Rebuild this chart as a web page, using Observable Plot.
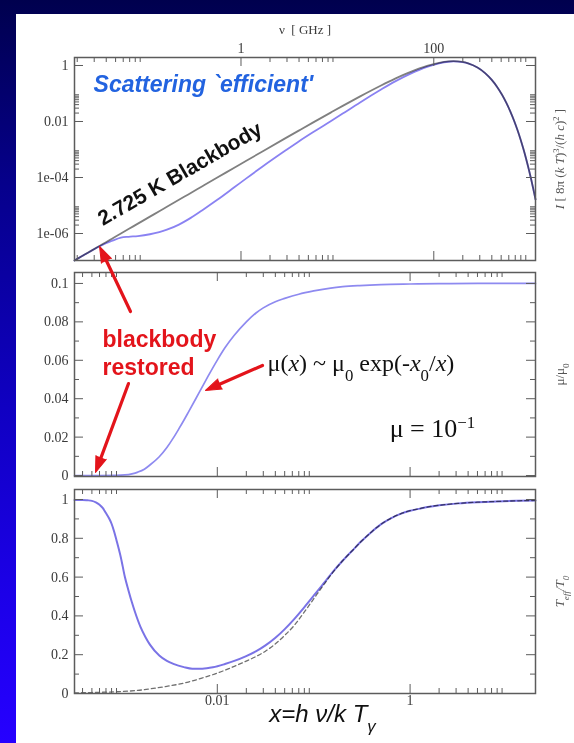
<!DOCTYPE html>
<html><head><meta charset="utf-8">
<script src="https://cdn.jsdelivr.net/npm/d3@7"></script>
<script src="https://cdn.jsdelivr.net/npm/@observablehq/plot@0.6"></script>
<style>
html,body{margin:0;padding:0;}
body{width:574px;height:743px;overflow:hidden;position:relative;}
#bg{position:absolute;left:0;top:0;width:574px;height:743px;background:linear-gradient(to bottom,#00004e 0%,#06008c 25%,#1000c2 55%,#1c00e8 80%,#2600ff 100%);}
#sheet{position:absolute;left:16px;top:14px;width:558px;height:729px;background:#fff;}
#stage{position:absolute;left:0;top:0;width:574px;height:743px;}
#stage svg{position:absolute;left:0;top:0;}
</style></head>
<body><div id="bg"></div><div id="sheet"></div><div id="stage"></div>
<script>
// ---------------- data ----------------
const GHZ_PER_X = 56.78;          // nu[GHz] = x * kT/h for T = 2.725 K
const X_DOMAIN = [3.3e-4, 20];

// top panel: intensity
const xTop = [3.3e-4, 4e-4, 5e-4, 6e-4, 7e-4, 8e-4, 1e-3, 1.2e-3, 1.5e-3, 2e-3, 2.5e-3, 3e-3, 4e-3, 5e-3, 7e-3,
  0.01, 0.015, 0.02, 0.03, 0.05, 0.07, 0.1, 0.15, 0.2, 0.3, 0.5, 0.7, 1, 1.5, 2, 2.5, 2.82, 3.5, 4, 5, 6, 7, 8, 9,
  10, 11, 12, 13, 14, 15, 16, 17, 18, 19, 20];
const blackbodyI = [1.089e-7, 1.6e-7, 2.5e-7, 3.6e-7, 4.9e-7, 6.4e-7, 1.0e-6, 1.44e-6, 2.25e-6, 4.0e-6, 6.24e-6, 8.99e-6, 1.6e-5, 2.49e-5, 4.88e-5,
  9.95e-5, 2.23e-4, 3.96e-4, 8.87e-4, 2.44e-3, 4.73e-3, 9.51e-3, 0.0208, 0.0361, 0.0772, 0.1927, 0.3383, 0.582, 0.9694, 1.252, 1.397, 1.421, 1.335, 1.194, 0.848, 0.5367, 0.3131, 0.1718, 0.08998,
  0.0454, 0.02223, 0.01062, 4.966e-3, 2.282e-3, 1.032e-3, 4.609e-4, 2.034e-4, 8.882e-5, 3.843e-5, 1.649e-5];
const distortedI = [1.089e-7, 1.6e-7, 2.48e-7, 3.5e-7, 4.5e-7, 5.4e-7, 7.1e-7, 7.63e-7, 8.1e-7, 9.4e-7, 1.123e-6, 1.366e-6, 2.08e-6, 3.19e-6, 6.83e-6,
  1.592e-5, 4.46e-5, 9.31e-5, 2.572e-4, 8.78e-4, 1.939e-3, 4.28e-3, 0.01019, 0.01913, 0.0471, 0.1387, 0.2706, 0.5034, 0.8967, 1.196, 1.362, 1.40, 1.324, 1.186, 0.843, 0.534, 0.3115, 0.171, 0.0895,
  0.0452, 0.0221, 0.01057, 4.94e-3, 2.27e-3, 1.027e-3, 4.59e-4, 2.024e-4, 8.84e-5, 3.82e-5, 1.64e-5];

// middle panel: chemical potential
const xMu = [3.3e-4, 6e-4, 9e-4, 1.1e-3, 1.3e-3, 1.5e-3, 1.75e-3, 2e-3, 2.5e-3, 3e-3, 3.5e-3, 4e-3, 4.5e-3, 5e-3, 6e-3, 7e-3, 8e-3,
  0.01, 0.012, 0.015, 0.02, 0.025, 0.03, 0.04, 0.05, 0.07, 0.1, 0.15, 0.2, 0.3, 0.5, 1, 2, 5, 10, 20];
const muValues = [0, 0, 0.00005, 0.0003, 0.0009, 0.0018, 0.0033, 0.0055, 0.0098, 0.0146, 0.0196, 0.0244, 0.0288, 0.0329, 0.0401, 0.0463, 0.0516,
  0.0601, 0.0665, 0.0730, 0.0800, 0.0845, 0.0873, 0.0905, 0.0922, 0.0944, 0.0961, 0.0976, 0.0983, 0.0989, 0.0994, 0.0997, 0.0999, 0.1, 0.1, 0.1];

// bottom panel: effective temperature
const xTeff = [3.3e-4, 4e-4, 4.5e-4, 5e-4, 5.5e-4, 6e-4, 6.5e-4, 7e-4, 7.5e-4, 8e-4, 8.5e-4, 9e-4, 1e-3, 1.1e-3, 1.2e-3, 1.3e-3, 1.4e-3,
  1.6e-3, 1.8e-3, 2e-3, 2.5e-3, 3e-3, 3.5e-3, 4.5e-3, 5.5e-3, 7e-3, 9e-3, 0.012, 0.015, 0.01995, 0.0251, 0.0316, 0.0398, 0.0501, 0.0631, 0.0794,
  0.1, 0.126, 0.158, 0.1995, 0.251, 0.316, 0.398, 0.501, 0.631, 0.794, 1, 1.26, 1.585, 2, 3.16, 5, 7.94, 12.6, 20];
const teffValues = [0.998, 0.998, 0.996, 0.993, 0.985, 0.973, 0.955, 0.93, 0.905, 0.875, 0.835, 0.79, 0.70, 0.60, 0.53, 0.47, 0.42,
  0.342, 0.29, 0.252, 0.196, 0.168, 0.153, 0.136, 0.128, 0.128, 0.135, 0.152, 0.168, 0.193, 0.217, 0.248, 0.286, 0.332, 0.385, 0.443,
  0.504, 0.566, 0.627, 0.684, 0.736, 0.787, 0.833, 0.873, 0.903, 0.926, 0.942, 0.953, 0.963, 0.970, 0.980, 0.986, 0.990, 0.993, 0.995];
const xTeffDashed = [3.3e-4, 5e-4, 7e-4, 1e-3, 1.5e-3, 2e-3, 3e-3, 4e-3, 5e-3, 7e-3, 0.01, 0.015, 0.01995, 0.0251, 0.0316, 0.0398, 0.0501, 0.0631, 0.0794,
  0.1, 0.126, 0.158, 0.1995, 0.251, 0.316, 0.398, 0.501, 0.631, 0.794, 1, 1.26, 1.585, 2, 3.16, 5, 7.94, 12.6, 20];
const teffDashed = [0.003, 0.005, 0.007, 0.01, 0.016, 0.024, 0.037, 0.048, 0.059, 0.08, 0.105, 0.14, 0.167, 0.19, 0.218, 0.255, 0.30, 0.352, 0.418,
  0.488, 0.558, 0.624, 0.684, 0.736, 0.787, 0.833, 0.873, 0.903, 0.926, 0.942, 0.953, 0.963, 0.970, 0.980, 0.986, 0.990, 0.993, 0.995];

// ticks and tick labels
const xMajorTicks = [1e-4, 0.01, 1];
const xMajorLabels = ["1e-04", "0.01", "1"];
const nuMajorTicks = [0.01, 1, 100];
const nuMajorLabels = ["0.01", "1", "100"];
const topYMajor = [1e-6, 1e-4, 1e-2, 1];
const topYLabels = ["1e-06", "1e-04", "0.01", "1"];
const muMajor = [0, 0.02, 0.04, 0.06, 0.08, 0.1];
const muLabels = ["0", "0.02", "0.04", "0.06", "0.08", "0.1"];
const muMinor = [0.01, 0.03, 0.05, 0.07, 0.09];
const teffMajor = [0, 0.2, 0.4, 0.6, 0.8, 1];
const teffLabels = ["0", "0.2", "0.4", "0.6", "0.8", "1"];
const teffMinor = [0.1, 0.3, 0.5, 0.7, 0.9];

// ---------------- layout / style ----------------
const W = 574, H = 743, ML = 74, MR = 39;
const PANELS = {top: [57, 260], mid: [272, 476], bot: [489, 693]};
const TOP_Y_DOMAIN = [1.086e-7, 1.93];
const MU_DOMAIN = [-0.0005, 0.1057];
const TEFF_DOMAIN = [0, 1.0515];
const AX = "#5c5c5c", TXT = "#3a3a3a", RED = "#e3141b";
const SERIF = "'Liberation Serif','Times New Roman',serif";
const SANS = "'Liberation Sans',Arial,sans-serif";
const FW = W - ML - MR;
const CURVE = "monotone-x";

const minorsOf = majors => majors.flatMap(m => [2, 3, 4, 5, 6, 7, 8, 9].map(k => k * m));
const within = dom => v => v >= dom[0] * 0.9999 && v <= dom[1] * 1.0001;
const inX = within(X_DOMAIN);

function base(p) {
  return {width: W, height: H, marginLeft: ML, marginRight: MR, marginTop: p[0], marginBottom: H - p[1],
    style: {background: "transparent", overflow: "visible", fontFamily: SERIF}};
}
function frameTicks(xMaj, xMin, yMaj, yMin, fh) {
  const MAJ = 9, MIN = 5, st = {stroke: AX, strokeWidth: 1};
  return [
    Plot.tickX(xMaj, {x: d => d, insetBottom: fh - MAJ, ...st}),
    Plot.tickX(xMaj, {x: d => d, insetTop: fh - MAJ, ...st}),
    Plot.tickX(xMin, {x: d => d, insetBottom: fh - MIN, ...st}),
    Plot.tickX(xMin, {x: d => d, insetTop: fh - MIN, ...st}),
    Plot.tickY(yMaj, {y: d => d, insetRight: FW - MAJ, ...st}),
    Plot.tickY(yMaj, {y: d => d, insetLeft: FW - MAJ, ...st}),
    Plot.tickY(yMin, {y: d => d, insetRight: FW - MIN, ...st}),
    Plot.tickY(yMin, {y: d => d, insetLeft: FW - MIN, ...st}),
    Plot.frame({stroke: AX, strokeWidth: 1.5})
  ];
}
const leftLabels = (vals, labels) => Plot.text(vals.map((v, i) => ({v, t: labels[i]})),
  {y: "v", text: "t", frameAnchor: "left", textAnchor: "end", dx: -6, fontSize: 14, fill: TXT, fontFamily: SERIF});
const rightTitle = (t, extra = {}) => Plot.text([t], {text: d => d, frameAnchor: "right", textAnchor: "middle", rotate: -90, dx: 24,
  fontSize: 13, fill: "#555", fontFamily: SERIF, ...extra});

// rich text: _{sub}, ^{sup}, *italic*
function richify(svg) {
  d3.select(svg).selectAll("text").each(function () {
    const nodes = this.children.length ? Array.from(this.querySelectorAll("tspan")) : [this];
    for (const node of nodes) {
      const s = node.textContent;
      if (!/(_\{|\^\{|\*)/.test(s)) continue;
      node.textContent = "";
      for (const part of s.split(/(_\{[^}]*\}|\^\{[^}]*\}|\*[^*]*\*)/)) {
        if (!part) continue;
        const ts = document.createElementNS("http://www.w3.org/2000/svg", "tspan");
        if (part.startsWith("_{")) { ts.textContent = part.slice(2, -1); ts.setAttribute("baseline-shift", "sub"); ts.setAttribute("font-size", "70%"); }
        else if (part.startsWith("^{")) { ts.textContent = part.slice(2, -1); ts.setAttribute("baseline-shift", "super"); ts.setAttribute("font-size", "65%"); }
        else if (part.startsWith("*")) { ts.textContent = part.slice(1, -1); ts.setAttribute("font-style", "italic"); }
        else ts.textContent = part;
        node.appendChild(ts);
      }
    }
  });
  return svg;
}

const stage = document.getElementById("stage");

// ---------------- top panel ----------------
{
  const rows = xTop.map((x, i) => ({x, bb: blackbodyI[i], dist: distortedI[i]}));
  const nuMaj = nuMajorTicks.map(v => v / GHZ_PER_X).filter(inX);
  const nuMin = minorsOf(nuMajorTicks).map(v => v / GHZ_PER_X).filter(inX);
  const yMin = minorsOf(topYMajor).filter(within(TOP_Y_DOMAIN));
  const nuLab = nuMajorTicks.map((v, i) => ({x: v / GHZ_PER_X, t: nuMajorLabels[i]})).filter(d => inX(d.x));
  const svg = Plot.plot({
    ...base(PANELS.top),
    x: {type: "log", domain: X_DOMAIN, axis: null},
    y: {type: "log", domain: TOP_Y_DOMAIN, axis: null},
    marks: [
      Plot.line(rows, {x: "x", y: "bb", stroke: "#808080", strokeWidth: 1.8, curve: CURVE}),
      Plot.line(rows, {x: "x", y: "dist", stroke: "#8a82f2", strokeWidth: 1.8, mixBlendMode: "multiply", curve: CURVE}),
      ...frameTicks(nuMaj, nuMin, topYMajor, yMin, PANELS.top[1] - PANELS.top[0]),
      leftLabels(topYMajor, topYLabels),
      Plot.text(nuLab, {x: "x", text: "t", frameAnchor: "top", dy: -14, fontSize: 14, fill: TXT, fontFamily: SERIF}),
      Plot.text(["ν  [ GHz ]"], {text: d => d, frameAnchor: "top", dy: -33, fontSize: 13, fill: TXT, fontFamily: SERIF}),
      rightTitle("*I* [ 8π (*k T*)^{3}/(*h c*)^{2} ]"),
      Plot.text(["Scattering `efficient'"], {text: d => d, x: () => 5.2e-4, y: () => 0.1086, textAnchor: "start", lineAnchor: "bottom",
        fontSize: 23, fontWeight: "bold", fontStyle: "italic", fill: "#2263e0", fontFamily: SANS}),
      Plot.text(["2.725 K Blackbody"], {text: d => d, x: () => 4.1e-3, y: () => 1.35e-4, rotate: -30,
        fontSize: 21, fontWeight: "bold", fill: "#111", fontFamily: SANS})
    ]
  });
  stage.appendChild(richify(svg));
}

// ---------------- middle panel ----------------
{
  const rows = xMu.map((x, i) => ({x, mu: muValues[i]}));
  const xMaj = xMajorTicks.filter(inX), xMin = minorsOf(xMajorTicks).filter(inX);
  const arrows = [
    {x1: 1.257e-3, y1: 0.0854, x2: 6.0e-4, y2: 0.1193},
    {x1: 1.199e-3, y1: 0.0479, x2: 5.45e-4, y2: 0.0016},
    {x1: 0.02942, y1: 0.0573, x2: 7.54e-3, y2: 0.0443}
  ];
  const xPix = d3.scaleLog().domain(X_DOMAIN).range([ML, W - MR]);
  const yPix = d3.scaleLinear().domain(MU_DOMAIN).range([PANELS.mid[1], PANELS.mid[0]]);
  const headRotate = a => Math.atan2(xPix(a.x2) - xPix(a.x1), -(yPix(a.y2) - yPix(a.y1))) * 180 / Math.PI;
  const svg = Plot.plot({
    ...base(PANELS.mid),
    x: {type: "log", domain: X_DOMAIN, axis: null},
    y: {domain: MU_DOMAIN, axis: null},
    marks: [
      Plot.line(rows, {x: "x", y: "mu", stroke: "#8e8af0", strokeWidth: 1.7, curve: CURVE}),
      ...frameTicks(xMaj, xMin, muMajor, muMinor, PANELS.mid[1] - PANELS.mid[0]),
      leftLabels(muMajor, muLabels),
      rightTitle("μ/μ_{0}"),
      Plot.text(["μ(*x*) ~ μ_{0} exp(-*x*_{0}/*x*)"], {text: d => d, x: () => 0.0332, y: () => 0.0583, textAnchor: "start",
        fontSize: 24, fill: "#111", fontFamily: SERIF}),
      Plot.text(["μ = 10^{−1}"], {text: d => d, x: () => 1.707, y: () => 0.0245, fontSize: 26, fill: "#111", fontFamily: SERIF}),
      Plot.text(["blackbody\nrestored"], {text: d => d, x: () => 6.44e-4, y: () => 0.0771, textAnchor: "start", lineAnchor: "top",
        lineHeight: 1.22, fontSize: 23, fontWeight: "bold", fill: RED, fontFamily: SANS}),
      Plot.arrow(arrows, {x1: "x1", y1: "y1", x2: "x2", y2: "y2", headLength: 0, insetEnd: 11, stroke: RED, strokeWidth: 3.2}),
      Plot.vector(arrows, {x: "x2", y: "y2", rotate: headRotate, length: 16, r: 5.5, shape: "spike", anchor: "end",
        fill: RED, stroke: RED, strokeWidth: 1})
    ]
  });
  stage.appendChild(richify(svg));
}

// ---------------- bottom panel ----------------
{
  const rows = xTeff.map((x, i) => ({x, t: teffValues[i]}));
  const dashed = xTeffDashed.map((x, i) => ({x, t: teffDashed[i]}));
  const xMaj = xMajorTicks.filter(inX), xMin = minorsOf(xMajorTicks).filter(inX);
  const xLab = xMajorTicks.map((v, i) => ({x: v, t: xMajorLabels[i]})).filter(d => inX(d.x));
  const svg = Plot.plot({
    ...base(PANELS.bot),
    x: {type: "log", domain: X_DOMAIN, axis: null},
    y: {domain: TEFF_DOMAIN, axis: null},
    marks: [
      Plot.line(dashed, {x: "x", y: "t", stroke: "#707070", strokeWidth: 1.3, strokeDasharray: "4,3", curve: CURVE}),
      Plot.line(rows, {x: "x", y: "t", stroke: "#7a73e6", strokeWidth: 2, mixBlendMode: "multiply", curve: CURVE}),
      ...frameTicks(xMaj, xMin, teffMajor, teffMinor, PANELS.bot[1] - PANELS.bot[0]),
      leftLabels(teffMajor, teffLabels),
      Plot.text(xLab, {x: "x", text: "t", frameAnchor: "bottom", dy: 11, fontSize: 14, fill: TXT, fontFamily: SERIF}),
      rightTitle("T_{eff}/T_{0}", {fontStyle: "italic"}),
      Plot.text(["x=h ν/k T_{γ}"], {text: d => d, x: () => 0.1233, frameAnchor: "bottom", dy: 28,
        fontSize: 24, fontStyle: "italic", fill: "#111", fontFamily: SANS})
    ]
  });
  stage.appendChild(richify(svg));
}
</script>
</body></html>
